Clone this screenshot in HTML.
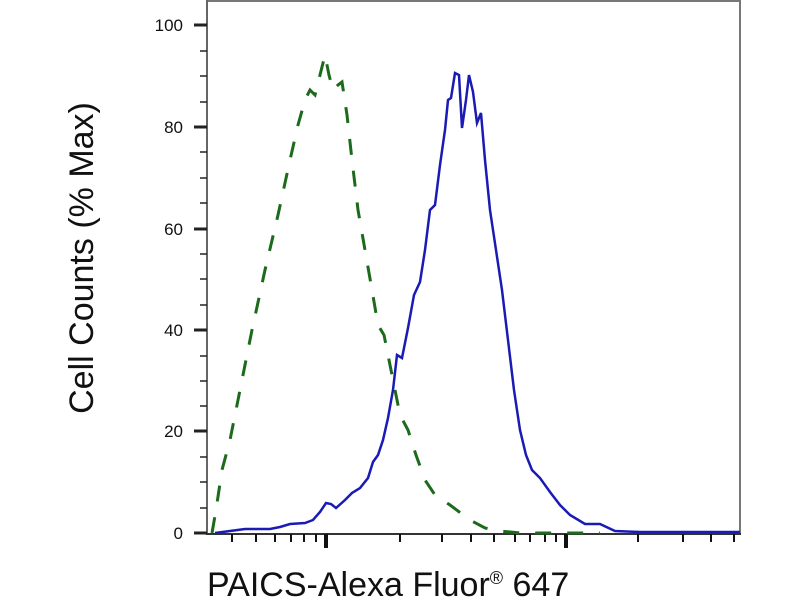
<!DOCTYPE html>
<html><head><meta charset="utf-8"><style>
html,body{margin:0;padding:0;background:#fff;}
svg{display:block;font-family:"Liberation Sans",sans-serif;}
</style></head><body>
<svg width="800" height="600" viewBox="0 0 800 600">
<rect width="800" height="600" fill="#fff"/>
<line x1="207" y1="1" x2="740" y2="1" stroke="#777" stroke-width="2"/>
<line x1="740" y1="0" x2="740" y2="535" stroke="#777" stroke-width="2"/>
<line x1="207" y1="0" x2="207" y2="535" stroke="#666" stroke-width="2"/>
<line x1="206" y1="534" x2="741" y2="534" stroke="#333" stroke-width="2"/>
<g stroke="#222" stroke-width="3">
<line x1="194" y1="25" x2="207" y2="25"/><line x1="194" y1="127" x2="207" y2="127"/>
<line x1="194" y1="229" x2="207" y2="229"/><line x1="194" y1="330" x2="207" y2="330"/>
<line x1="194" y1="431" x2="207" y2="431"/><line x1="194" y1="533" x2="207" y2="533"/>
</g>
<g stroke="#222" stroke-width="1.5">
<line x1="200" y1="51" x2="207" y2="51"/><line x1="200" y1="76" x2="207" y2="76"/><line x1="200" y1="102" x2="207" y2="102"/>
<line x1="200" y1="152" x2="207" y2="152"/><line x1="200" y1="178" x2="207" y2="178"/><line x1="200" y1="203" x2="207" y2="203"/>
<line x1="200" y1="254" x2="207" y2="254"/><line x1="200" y1="279" x2="207" y2="279"/><line x1="200" y1="305" x2="207" y2="305"/>
<line x1="200" y1="356" x2="207" y2="356"/><line x1="200" y1="381" x2="207" y2="381"/><line x1="200" y1="406" x2="207" y2="406"/>
<line x1="200" y1="457" x2="207" y2="457"/><line x1="200" y1="482" x2="207" y2="482"/><line x1="200" y1="508" x2="207" y2="508"/>
</g>
<g font-size="17" fill="#111" text-anchor="end">
<text x="183" y="31">100</text><text x="183" y="133">80</text><text x="183" y="235">60</text>
<text x="183" y="336">40</text><text x="183" y="437">20</text><text x="183" y="539">0</text>
</g>
<g stroke="#111" stroke-width="2">
<line x1="232" y1="534" x2="232" y2="542"/><line x1="256" y1="534" x2="256" y2="542"/><line x1="275" y1="534" x2="275" y2="542"/>
<line x1="291" y1="534" x2="291" y2="542"/><line x1="304" y1="534" x2="304" y2="542"/><line x1="316" y1="534" x2="316" y2="542"/>
<line x1="400" y1="534" x2="400" y2="542"/><line x1="442" y1="534" x2="442" y2="542"/><line x1="471" y1="534" x2="471" y2="542"/>
<line x1="494" y1="534" x2="494" y2="542"/><line x1="515" y1="534" x2="515" y2="542"/><line x1="530" y1="534" x2="530" y2="542"/>
<line x1="545" y1="534" x2="545" y2="542"/><line x1="556" y1="534" x2="556" y2="542"/>
<line x1="638" y1="534" x2="638" y2="542"/><line x1="683" y1="534" x2="683" y2="542"/><line x1="711" y1="534" x2="711" y2="542"/><line x1="734" y1="534" x2="734" y2="542"/>
</g>
<g stroke="#111" stroke-width="4">
<line x1="326" y1="534" x2="326" y2="548"/><line x1="566" y1="534" x2="566" y2="548"/>
</g>
<polyline fill="none" stroke="#1c6a1c" stroke-width="3" stroke-dasharray="16,16" points="212,533 216,510 222,470 230,440 240,390 252,330 265,270 278,215 290,160 298,125 305,100 310,90 315,95 320,75 325,55 329,75 333,90 338,85 342,82 347,115 352,160 358,210 365,250 372,290 378,325 384,335 392,375 400,415 408,430 416,455 425,480 435,495 450,505 470,520 485,528 500,531 520,533 560,533 600,533"/>
<polyline fill="none" stroke="#1a1ab4" stroke-width="2.5" points="215,533 230,531 245,529 270,529 280,527 290,524 305,523 313,520 320,512 326,503 331,504 336,508 345,500 352,493 360,488 368,478 373,462 378,455 383,440 388,418 393,390 397,355 402,358 408,328 414,295 420,282 425,250 430,210 435,205 440,165 445,130 448,100 451,98 455,73 459,75 462,128 466,100 469,75 473,92 477,123 481,113 485,160 490,210 496,250 502,290 508,340 514,390 520,430 526,455 532,470 540,478 550,492 560,505 570,515 585,524 600,524 615,531 640,532 740,532"/>
<text transform="translate(93,258) rotate(-90)" font-size="34" text-anchor="middle" fill="#111">Cell Counts (% Max)</text>
<text x="207" y="596" font-size="34" fill="#111">PAICS-Alexa Fluor<tspan font-size="18" dy="-12">®</tspan><tspan dy="12"> 647</tspan></text>
</svg>
</body></html>
